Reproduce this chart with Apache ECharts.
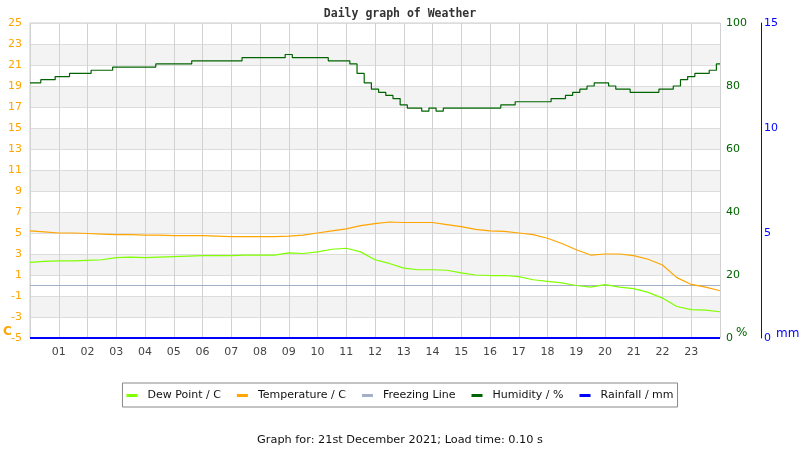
<!DOCTYPE html>
<html>
<head>
<meta charset="utf-8">
<script src="https://cdn.jsdelivr.net/npm/echarts@6/dist/echarts.min.js"></script>
<style>
html,body{margin:0;padding:0;background:#fff;}
#chart{width:800px;height:450px;}
</style>
</head>
<body>
<div id="chart"></div>
<script>
// ---- Data ----
var titleText = 'Daily graph of Weather';
var footerText = 'Graph for: 21st December 2021; Load time: 0.10 s';
var seriesNames = ['Dew Point / C', 'Temperature / C', 'Freezing Line', 'Humidity / %', 'Rainfall / mm'];
var hourTicks = ['01','02','03','04','05','06','07','08','09','10','11','12','13','14','15','16','17','18','19','20','21','22','23'];

// half-hourly samples, hours 0 .. 24
var temperature = [5.2,5.1,5.0,5.0,4.95,4.9,4.85,4.85,4.8,4.8,4.75,4.75,4.75,4.7,4.65,4.65,4.65,4.65,
  4.7,4.8,5.0,5.2,5.4,5.7,5.9,6.05,6.0,6.0,6.0,5.8,5.6,5.35,5.2,5.15,5.0,4.85,4.5,4.0,3.4,2.9,3.0,3.0,
  2.85,2.5,1.95,0.75,0.1,-0.15,-0.5];
var dewPoint = [2.2,2.3,2.35,2.35,2.4,2.45,2.65,2.7,2.65,2.7,2.75,2.8,2.85,2.85,2.85,2.9,2.9,2.9,
  3.1,3.05,3.2,3.45,3.55,3.2,2.45,2.1,1.65,1.5,1.5,1.45,1.2,1.0,0.95,0.95,0.85,0.55,0.4,0.25,0.0,-0.15,
  0.08,-0.15,-0.3,-0.65,-1.2,-2.0,-2.3,-2.35,-2.5];
// quarter-hourly samples, hours 0 .. 24
var humidity = [81,81,82,82,83,83,84,84,84,85,85,85,86,86,86,86,86,86,87,87,87,87,87,88,88,88,88,88,88,88,
  89,89,89,89,89,89,90,89,89,89,89,89,88,88,88,87,84,81,79,78,77,76,74,73,73,72,73,72,73,73,73,73,73,73,
  73,73,74,74,75,75,75,75,75,76,76,77,78,79,80,81,81,80,79,79,78,78,78,78,79,79,80,82,83,84,84,85,87];
var freezing = [0, 0];
var freezingHours = [0, 24];
var rainfall = [0, 0];
var rainHours = [0, 24];

function pairs(step, vals){ return vals.map(function(v,i){ return [i*step, v]; }); }
function pairsAt(hours, vals){ return vals.map(function(v,i){ return [hours[i], v]; }); }

var FONT = 'DejaVu Sans';
var chart = echarts.init(document.getElementById('chart'), null, {renderer:'canvas'});
chart.setOption({
  animation: false,
  backgroundColor: '#ffffff',
  title: [
    {text: titleText, left: 'center', top: 3,
     textStyle:{fontFamily:'DejaVu Sans Mono', fontWeight:'bold', fontSize:11.5, color:'#333'}},
    {text: footerText, left: 'center', top: 430,
     textStyle:{fontFamily:FONT, fontWeight:'normal', fontSize:11.3, color:'#111'}}
  ],
  legend: {
    data: seriesNames, left: 'center', top: 383,
    icon: 'rect', itemWidth: 11, itemHeight: 3, itemGap: 16,
    borderColor: '#888', borderWidth: 1, padding: [7, 4, 6, 4],
    textStyle: {fontFamily: FONT, fontSize: 11, color: '#111', padding: [0,0,0,5]}
  },
  grid: {left: 30, right: 80, top: 23, bottom: 112, show: true, borderColor: '#cccccc', borderWidth: 1},
  xAxis: {
    type: 'value', min: 0, max: 24, interval: 1,
    axisLine: {show: false}, axisTick: {show: false},
    axisLabel: {fontFamily: FONT, fontSize: 11, color: '#444', margin: 9,
      formatter: function(v){ return (v >= 1 && v <= 23) ? hourTicks[v-1] : ''; }},
    splitLine: {show: true, lineStyle: {color: '#d2d2d2', width: 1}}
  },
  yAxis: [
    {type: 'value', position: 'left', min: -5, max: 25, interval: 2,
     axisLine: {show: false}, axisTick: {show: false},
     axisLabel: {fontFamily: FONT, fontSize: 11, color: '#FFA500', margin: 8},
     splitLine: {show: true, lineStyle: {color: '#dcdcdc', width: 1}},
     splitArea: {show: true, areaStyle: {color: ['#ffffff', '#f3f3f3']}}},
    {type: 'value', position: 'right', min: 0, max: 100, interval: 20,
     axisLine: {show: false}, axisTick: {show: false}, splitLine: {show: false},
     axisLabel: {fontFamily: FONT, fontSize: 11, color: '#006400', margin: 6}},
    {type: 'value', position: 'right', offset: 41, min: 0, max: 15, interval: 5,
     axisLine: {show: true, lineStyle: {color: '#0000FF', width: 1}}, axisTick: {show: false},
     splitLine: {show: false},
     axisLabel: {fontFamily: FONT, fontSize: 11, color: '#0000FF', margin: 3}}
  ],
  graphic: [
    {type:'text', left: 3, top: 326, style:{text:'C', fill:'#FFA500', font:'bold 12px DejaVu Sans'}},
    {type:'text', left: 736, top: 327, style:{text:'%', fill:'#006400', font:'12px DejaVu Sans'}},
    {type:'text', left: 776, top: 328, style:{text:'mm', fill:'#0000FF', font:'12px DejaVu Sans'}}
  ],
  series: [
    {name: seriesNames[3], type: 'line', yAxisIndex: 1, data: pairs(0.25, humidity), step: 'middle',
     showSymbol: false, symbol: 'none', color: '#006400', lineStyle: {width: 1.2, color: '#006400'}, z: 3},
    {name: seriesNames[2], type: 'line', yAxisIndex: 0, data: pairsAt(freezingHours, freezing),
     showSymbol: false, symbol: 'none', color: '#A3B0C8', lineStyle: {width: 1.2, color: '#A3B0C8'}, z: 2},
    {name: seriesNames[1], type: 'line', yAxisIndex: 0, data: pairs(0.5, temperature),
     showSymbol: false, symbol: 'none', color: '#FFA500', lineStyle: {width: 1.2, color: '#FFA500'}, z: 4},
    {name: seriesNames[0], type: 'line', yAxisIndex: 0, data: pairs(0.5, dewPoint),
     showSymbol: false, symbol: 'none', color: '#7FFF00', lineStyle: {width: 1.2, color: '#7FFF00'}, z: 4},
    {name: seriesNames[4], type: 'line', yAxisIndex: 2, data: pairsAt(rainHours, rainfall),
     showSymbol: false, symbol: 'none', color: '#0000FF', lineStyle: {width: 2, color: '#0000FF'}, z: 5}
  ]
});
</script>
</body>
</html>
